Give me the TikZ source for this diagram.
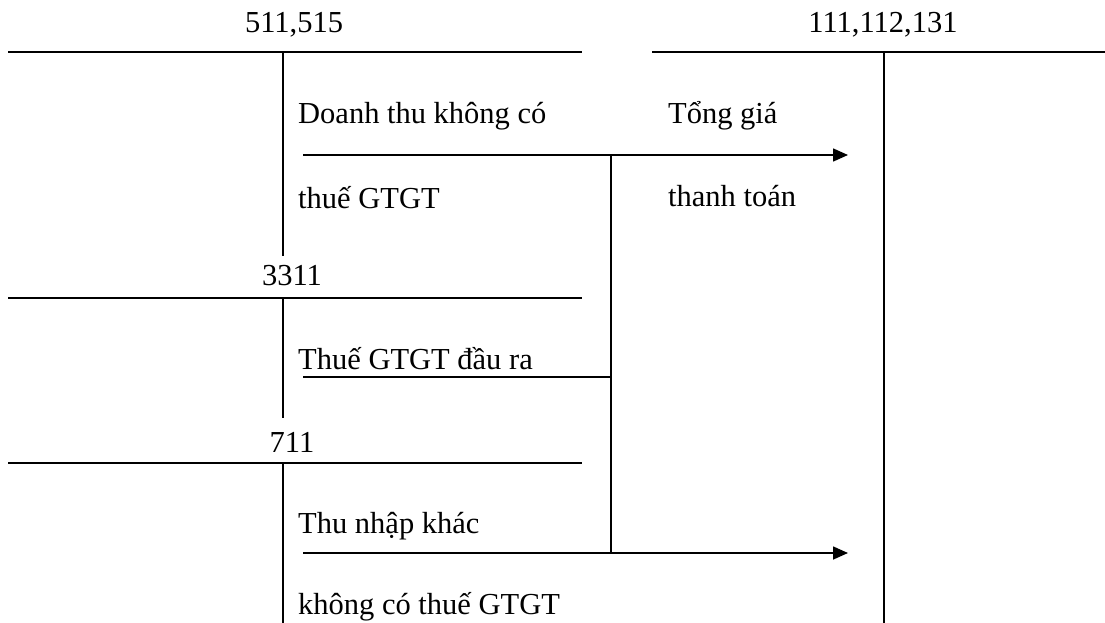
\documentclass[tikz,border=0pt]{standalone}
\usepackage{fontspec}
\setmainfont{Liberation Serif}
\usetikzlibrary{arrows.meta}
\begin{document}
\begin{tikzpicture}[x=1pt,y=-1pt,
  acc/.style={line width=1.6pt},
  lbl/.style={inner sep=0pt,font=\fontsize{30.5}{33}\selectfont},
  txt/.style={lbl,anchor=west},
  flow/.style={line width=1.6pt,-{Triangle[length=15pt,width=13pt]}},
  link/.style={line width=1.2pt}]
\useasboundingbox (0,0) rectangle (1105,623);
% T-accounts
\coordinate (a1l) at (8,52);   \coordinate (a1r) at (582,52);
\coordinate (a1t) at (283,52); \coordinate (a1b) at (283,256);
\coordinate (a2l) at (652,52); \coordinate (a2r) at (1105,52);
\coordinate (a2t) at (884,52); \coordinate (a2b) at (884,623);
\coordinate (a3l) at (8,298);  \coordinate (a3r) at (582,298);
\coordinate (a3t) at (283,298); \coordinate (a3b) at (283,418);
\coordinate (a4l) at (8,463);  \coordinate (a4r) at (582,463);
\coordinate (a4t) at (283,463); \coordinate (a4b) at (283,623);
\draw[acc] (a1l) -- (a1r); \draw[acc] (a1t) -- (a1b);
\draw[acc] (a2l) -- (a2r); \draw[acc] (a2t) -- (a2b);
\draw[acc] (a3l) -- (a3r); \draw[acc] (a3t) -- (a3b);
\draw[acc] (a4l) -- (a4r); \draw[acc] (a4t) -- (a4b);
\node[lbl] (n1) at (294,25) {511,515};
\node[lbl] (n2) at (883,25) {111,112,131};
\node[lbl] (n3) at (292,276) {3311};
\node[lbl] (n4) at (292,442) {711};
% texts
\node[txt] (t1) at (298,116) {Doanh thu không có};
\node[txt] (t2) at (298,198) {thuế GTGT};
\node[txt] (t3) at (668,116) {Tổng giá};
\node[txt] (t4) at (668,196) {thanh toán};
\node[txt] (t5) at (298,359) {Thuế GTGT đầu ra};
\node[txt] (t6) at (298,526) {Thu nhập khác};
\node[txt] (t7) at (298,607) {không có thuế GTGT};
% flows
\coordinate (s1) at (303,155); \coordinate (e1) at (848,155);
\coordinate (s2) at (303,377); \coordinate (j2) at (611,377);
\coordinate (s3) at (303,553); \coordinate (e3) at (848,553);
\coordinate (jt) at (611,155); \coordinate (jb) at (611,553);
\draw[flow] (s1) -- (e1);
\draw[flow] (s3) -- (e3);
\draw[link] (s2) -- (j2);
\draw[link] (jt) -- (jb);
\end{tikzpicture}
\end{document}
